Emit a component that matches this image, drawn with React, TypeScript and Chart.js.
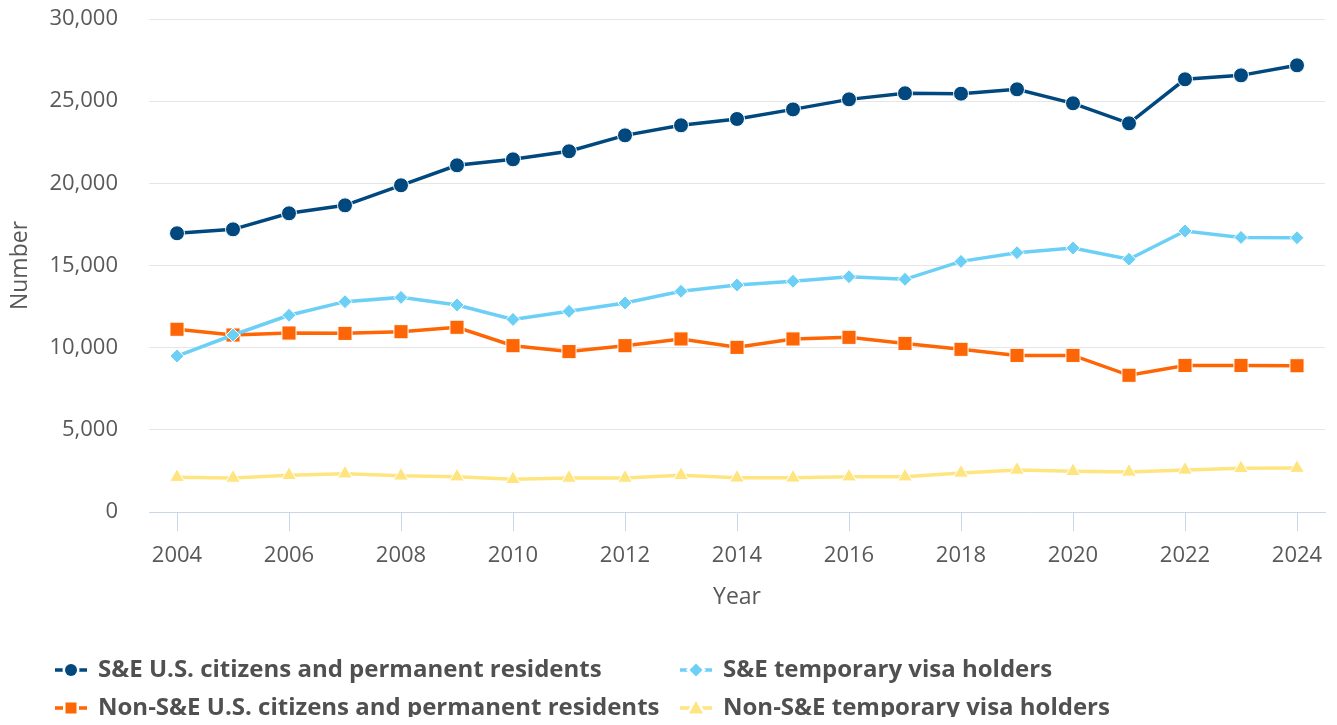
import React, { useEffect, useRef } from "react";
import { Chart, registerables } from "chart.js";

Chart.register(...registerables);

const years = [
  "2004", "2005", "2006", "2007", "2008", "2009", "2010", "2011", "2012", "2013", "2014",
  "2015", "2016", "2017", "2018", "2019", "2020", "2021", "2022", "2023", "2024",
];

const seUsCitizens = [
  16960, 17200, 18175, 18660, 19880, 21095, 21460, 21950, 22920, 23530, 23915,
  24500, 25110, 25480, 25455, 25720, 24870, 23650, 26330, 26570, 27180,
];
const seTempVisa = [
  9490, 10770, 11970, 12800, 13060, 12600, 11720, 12210, 12720, 13430, 13810,
  14040, 14320, 14160, 15250, 15780, 16060, 15380, 17100, 16710, 16690,
];
const nonSeUsCitizens = [
  11120, 10770, 10890, 10870, 10970, 11240, 10120, 9760, 10120, 10530, 10020,
  10530, 10630, 10260, 9900, 9530, 9530, 8320, 8920, 8920, 8900,
];
const nonSeTempVisa = [
  2120, 2070, 2230, 2330, 2200, 2150, 1990, 2070, 2070, 2230, 2080,
  2080, 2150, 2150, 2380, 2560, 2480, 2440, 2560, 2660, 2670,
];

const seriesLabels = [
  "S&E U.S. citizens and permanent residents",
  "S&E temporary visa holders",
  "Non-S&E U.S. citizens and permanent residents",
  "Non-S&E temporary visa holders",
];

const yTicks = [0, 5000, 10000, 15000, 20000, 25000, 30000];

const FONT = "'Open Sans', 'Noto Sans', sans-serif";
const TEXT = "#595959";

function drawMarker(ctx: CanvasRenderingContext2D, style: string, x: number, y: number, r: number) {
  ctx.beginPath();
  if (style === "circle") {
    ctx.arc(x, y, r, 0, Math.PI * 2);
  } else if (style === "rect") {
    ctx.rect(x - r, y - r, 2 * r, 2 * r);
  } else if (style === "rectRot") {
    ctx.moveTo(x, y - r);
    ctx.lineTo(x + r, y);
    ctx.lineTo(x, y + r);
    ctx.lineTo(x - r, y);
    ctx.closePath();
  } else {
    ctx.moveTo(x, y - r);
    ctx.lineTo(x + r, y + r * 0.8);
    ctx.lineTo(x - r, y + r * 0.8);
    ctx.closePath();
  }
  ctx.stroke();
  ctx.fill();
}

const legendPlugin = {
  id: "customLegend",
  afterDraw(chart: any) {
    const ctx: CanvasRenderingContext2D = chart.ctx;
    const colX = [47, 672];
    const rowY = [662, 700];
    const sizes: Record<string, number> = { circle: 6, rect: 5.5, rectRot: 6.5, triangle: 7 };
    ctx.save();
    chart.data.datasets.forEach((ds: any, i: number) => {
      const x0 = colX[i % 2];
      const y = rowY[Math.floor(i / 2)];
      ctx.strokeStyle = ds.borderColor;
      ctx.lineWidth = 3.5;
      ctx.beginPath();
      ctx.moveTo(x0, y);
      ctx.lineTo(x0 + 32, y);
      ctx.stroke();
      ctx.fillStyle = ds.backgroundColor;
      ctx.strokeStyle = "#ffffff";
      ctx.lineWidth = 5;
      drawMarker(ctx, ds.pointStyle, x0 + 16, y, sizes[ds.pointStyle]);
      ctx.fillStyle = "#505050";
      ctx.font = `bold 24px ${FONT}`;
      ctx.textBaseline = "middle";
      ctx.textAlign = "left";
      ctx.fillText(ds.label, x0 + 43, y);
    });
    ctx.restore();
  },
};

export default function App() {
  const ref = useRef<HTMLCanvasElement | null>(null);

  useEffect(() => {
    if (!ref.current) return;
    const mk = (label: string, data: number[], color: string, style: string, radius: number) => ({
      label,
      data,
      borderColor: color,
      backgroundColor: color,
      borderWidth: 3.5,
      pointStyle: style,
      pointRadius: radius,
      pointHoverRadius: radius,
      pointBackgroundColor: color,
      pointBorderColor: "#ffffff",
      pointBorderWidth: 1,
      tension: 0,
      fill: false,
    });
    const chart = new Chart(ref.current, {
      type: "line",
      data: {
        labels: years,
        datasets: [
          mk(seriesLabels[0], seUsCitizens, "#00487e", "circle", 7.5),
          mk(seriesLabels[1], seTempVisa, "#6ccff6", "rectRot", 7),
          mk(seriesLabels[2], nonSeUsCitizens, "#fe6505", "rect", 10),
          mk(seriesLabels[3], nonSeTempVisa, "#ffe580", "triangle", 8.5),
        ],
      },
      options: {
        animation: false,
        responsive: true,
        maintainAspectRatio: false,
        layout: { autoPadding: false, padding: { top: 11, right: 4, bottom: 108, left: 0 } },
        plugins: {
          legend: { display: false },
          tooltip: { enabled: false },
        },
        scales: {
          x: {
            type: "category",
            offset: true,
            grid: {
              display: true,
              offset: false,
              drawOnChartArea: false,
              drawTicks: true,
              tickLength: 19,
              color: (c: any) => (c.index % 2 === 0 ? "#ccd6eb" : "rgba(0,0,0,0)"),
            },
            border: { display: true, color: "#ccd6eb", width: 1 },
            ticks: {
              autoSkip: false,
              maxRotation: 0,
              padding: 12,
              color: TEXT,
              font: { family: FONT, size: 22 },
              callback: (_v: any, i: number) => (i % 2 === 0 ? years[i] : ""),
            },
            title: {
              display: true,
              text: "Year",
              color: TEXT,
              font: { family: FONT, size: 23 },
              padding: { top: 0, bottom: 6 },
            },
            afterFit: (s: any) => {
              s.height = 105;
              s.paddingLeft = 0;
              s.paddingRight = 0;
            },
          },
          y: {
            min: 0,
            max: 30000,
            afterBuildTicks: (s: any) => {
              s.ticks = yTicks.map((v) => ({ value: v }));
            },
            grid: {
              color: (c: any) => (c.tick && c.tick.value === 0 ? "rgba(0,0,0,0)" : "#e6e6e6"),
              drawTicks: false,
              lineWidth: 1,
            },
            border: { display: false },
            ticks: {
              padding: 31,
              color: TEXT,
              font: { family: FONT, size: 22, lineHeight: 1 },
              callback: (v: any) => Number(v).toLocaleString("en-US"),
            },
            title: {
              display: true,
              text: "Number",
              color: TEXT,
              font: { family: FONT, size: 23, lineHeight: 1.1 },
              padding: 0,
            },
            afterFit: (s: any) => {
              s.width = 141;
              s.paddingTop = 0;
              s.paddingBottom = 0;
            },
          },
        },
      },
      plugins: [legendPlugin],
    });
    return () => chart.destroy();
  }, []);

  return (
    <div style={{ width: 1321, height: 717, marginBottom: -8, position: "relative" }}>
      <canvas ref={ref} />
    </div>
  );
}
